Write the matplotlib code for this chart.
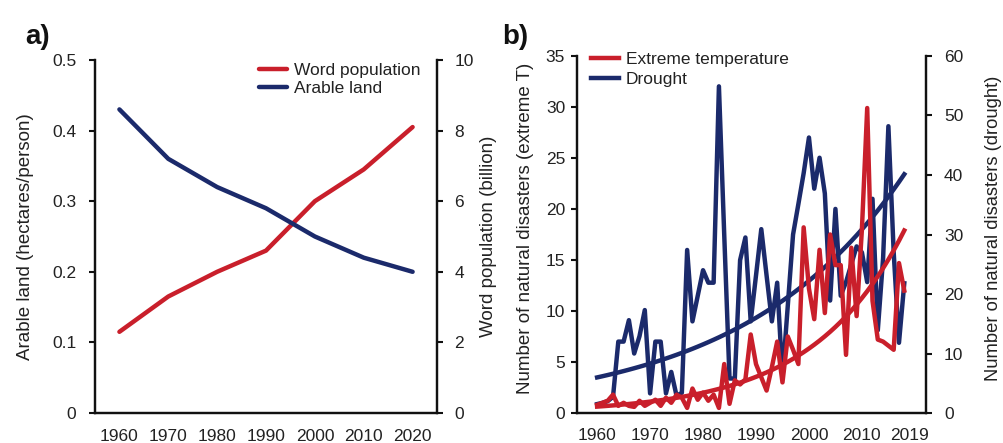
import numpy as np
import matplotlib
matplotlib.use("Agg")
import matplotlib.pyplot as plt

plt.rcParams['font.family'] = ['Liberation Sans', 'DejaVu Sans']

RED = "#C91F2B"
BLUE = "#1B2A6B"
TXT = "#222222"

# Panel a: arable land per person vs world population
years_a = [1960, 1970, 1980, 1990, 2000, 2010, 2020]
arable_land = [0.43, 0.36, 0.32, 0.29, 0.25, 0.22, 0.20]
world_population = [2.3, 3.3, 4.0, 4.6, 6.0, 6.9, 8.1]
xticks_a = [1960, 1970, 1980, 1990, 2000, 2010, 2020]

# Panel b: yearly counts of natural disasters
years_b = list(range(1960, 2019))
extreme_temp = [0.8, 1.0, 1.2, 1.8, 0.7, 1.0, 0.7, 0.6, 1.2, 0.7,
                1.0, 1.3, 0.7, 1.5, 1.0, 1.8, 1.5, 0.5, 2.4, 1.3,
                2.0, 1.2, 1.8, 0.5, 4.8, 0.9, 3.2, 2.8, 3.3, 7.7,
                4.8, 3.5, 2.2, 4.5, 7.0, 3.0, 7.5, 6.2, 4.8, 18.2,
                12.2, 9.2, 16.0, 9.8, 17.5, 14.5, 14.5, 5.7, 16.2, 9.5,
                18.0, 29.9, 11.0, 7.2, 7.0, 6.6, 6.2, 14.7, 12.0]
drought = [1.5, 1.7, 2.0, 2.7, 12.0, 12.0, 15.6, 10.0, 12.9, 17.3,
           3.3, 12.0, 12.0, 3.3, 6.9, 2.9, 3.4, 27.4, 15.4, 19.7,
           24.0, 21.9, 21.9, 54.9, 30.0, 5.8, 5.8, 25.7, 29.5, 15.4,
           23.1, 30.9, 23.1, 15.4, 21.9, 6.0, 18.0, 30.0, 35.1, 40.3,
           46.3, 37.7, 42.9, 36.9, 18.9, 34.3, 19.7, 22.0, 25.0, 28.0,
           27.0, 22.0, 36.0, 13.9, 26.0, 48.2, 27.0, 11.8, 21.8]
xticks_b = [1960, 1970, 1980, 1990, 2000, 2010, 2019]


def exp_trend(x, y):
    x = np.asarray(x, float)
    b, a = np.polyfit(x - x[0], np.log(np.asarray(y, float)), 1)
    return np.exp(a + b * (x - x[0]))


def style_axes(ax, ax2, lpad, rpad, xpad):
    for a in (ax, ax2):
        a.spines['top'].set_visible(False)
        for s in ('left', 'right', 'bottom'):
            a.spines[s].set_linewidth(1.6)
            a.spines[s].set_color('#111111')
        a.tick_params(axis='y', direction='out', length=4, width=1.5,
                      labelsize=12.5, labelcolor=TXT, color='#111111')
        a.tick_params(axis='x', length=0, labelsize=12.5, labelcolor=TXT,
                      pad=xpad)
    ax.tick_params(axis='y', pad=lpad)
    ax2.tick_params(axis='y', pad=rpad)


fig = plt.figure(figsize=(10.04, 4.43), dpi=100)

# ---- panel a ----
axa = fig.add_axes([0.0946, 0.0677, 0.3407, 0.7969])
axa2 = axa.twinx()
axa.set_zorder(axa2.get_zorder() + 1)
axa.patch.set_visible(False)

axa.plot(years_a, arable_land, color=BLUE, lw=3.2, solid_capstyle='round',
         label='Arable land')
axa2.plot(years_a, world_population, color=RED, lw=3.2,
          solid_capstyle='round', label='Word population')

axa.set_xlim(1955, 2025)
axa.set_ylim(0, 0.5)
axa2.set_ylim(0, 10)
axa.set_xticks(xticks_a)
axa.set_yticks([0, 0.1, 0.2, 0.3, 0.4, 0.5])
axa.set_yticklabels(['0', '0.1', '0.2', '0.3', '0.4', '0.5'])
axa2.set_yticks([0, 2, 4, 6, 8, 10])
style_axes(axa, axa2, 9.5, 8.5, 11.5)

axa.set_ylabel('Arable land (hectares/person)', fontsize=13.5, color=TXT)
axa.yaxis.set_label_coords(-0.179, 0.5)
axa2.set_ylabel('Word population (billion)', fontsize=13.5, color=TXT)
axa2.yaxis.set_label_coords(1.126, 0.5)

ha1, la1 = axa2.get_legend_handles_labels()
ha2, la2 = axa.get_legend_handles_labels()
axa.legend(ha1 + ha2, la1 + la2, loc='upper right',
           bbox_to_anchor=(0.972, 1.012), frameon=False, fontsize=12.5,
           handlelength=1.6, handletextpad=0.4, labelspacing=0.2,
           borderaxespad=0.0, labelcolor=TXT)

fig.text(0.025, 0.9, 'a)', fontsize=20, fontweight='bold', color='#111111')

# ---- panel b ----
axb = fig.add_axes([0.5747, 0.0677, 0.3476, 0.8059])
axb2 = axb.twinx()
axb.set_zorder(axb2.get_zorder() + 1)
axb.patch.set_visible(False)

axb2.plot(years_b, drought, color=BLUE, lw=3.2, label='Drought')
axb2.plot(years_b, exp_trend(years_b, drought), color=BLUE, lw=3.2)
axb.plot(years_b, extreme_temp, color=RED, lw=3.2,
         label='Extreme temperature')
axb.plot(years_b, exp_trend(years_b, extreme_temp), color=RED, lw=3.2)

axb.set_xlim(1956.2, 2022.1)
axb.set_ylim(0, 35)
axb2.set_ylim(0, 60)
axb.set_xticks(xticks_b)
axb.set_yticks(range(0, 36, 5))
axb2.set_yticks(range(0, 61, 10))
style_axes(axb, axb2, 4.5, 9, 10.5)

axb.set_ylabel('Number of natural disasters (extreme T)', fontsize=13.5,
               color=TXT)
axb.yaxis.set_label_coords(-0.123, 0.518)
axb2.set_ylabel('Number of natural disasters (drought)', fontsize=13.2,
                color=TXT)
axb2.yaxis.set_label_coords(1.17, 0.518)

hb1, lb1 = axb.get_legend_handles_labels()
hb2, lb2 = axb2.get_legend_handles_labels()
axb.legend(hb1 + hb2, lb1 + lb2, loc='upper left',
           bbox_to_anchor=(0.02, 1.03), frameon=False, fontsize=12.5,
           handlelength=1.6, handletextpad=0.4, labelspacing=0.25,
           borderaxespad=0.0, labelcolor=TXT)

fig.text(0.5, 0.9, 'b)', fontsize=20, fontweight='bold', color='#111111')

fig.savefig('out.png', dpi=100)
